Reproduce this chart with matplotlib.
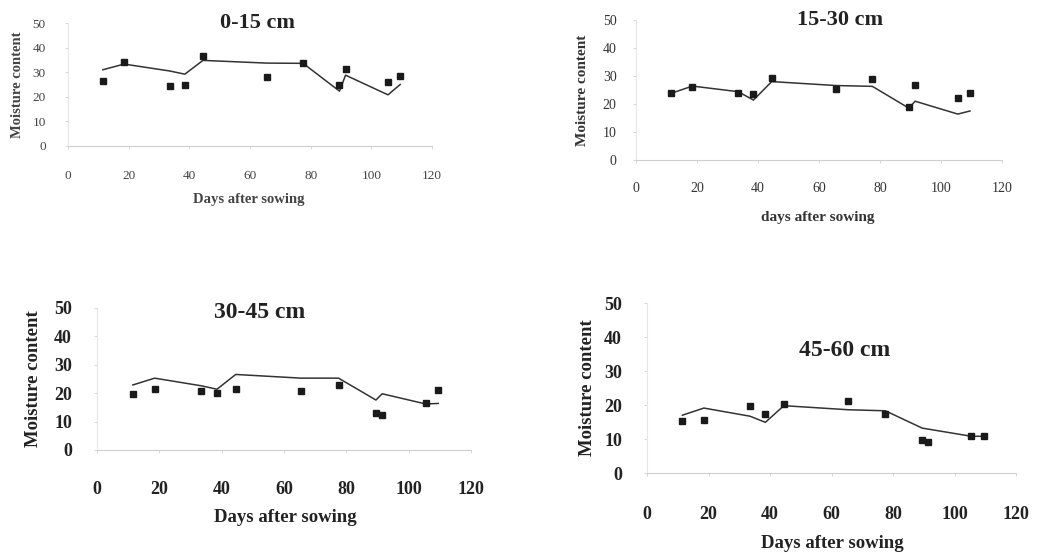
import matplotlib.pyplot as plt

# sampling days (same for every depth)
days = [11.5, 18.5, 33.5, 38.5, 44.5, 65.5, 77.5, 89.5, 91.5, 105.5, 109.5]

# observed (squares) and simulated (line) soil moisture per depth
obs_0_15 = [26.5, 34.1, 24.2, 24.9, 36.7, 28.1, 33.6, 25.0, 31.3, 26.2, 28.5]
sim_0_15 = [31.0, 33.3, 30.5, 29.2, 34.8, 33.7, 33.6, 22.3, 28.8, 20.8, 25.0]

obs_15_30 = [23.8, 26.2, 24.0, 23.5, 29.2, 25.5, 28.9, 18.8, 26.7, 22.1, 24.0]
sim_15_30 = [23.8, 26.4, 24.4, 21.4, 28.0, 26.6, 26.3, 18.5, 21.0, 16.4, 17.5]

obs_30_45 = [19.8, 21.4, 20.6, 20.0, 21.6, 20.8, 22.8, 12.9, 12.5, 16.5, 21.2]
sim_30_45 = [22.9, 25.3, 22.6, 21.4, 26.6, 25.3, 25.3, 17.6, 19.8, 16.2, 16.4]

obs_45_60 = [15.2, 15.7, 19.6, 17.5, 20.4, 21.3, 17.4, 9.6, 9.2, 10.8, 10.8]
sim_45_60 = [17.0, 19.1, 16.7, 14.9, 19.8, 18.6, 18.3, 13.2, 12.9, 10.8, 10.8]

W, H = 1040, 555
plt.rcParams['font.family'] = ['Liberation Serif', 'DejaVu Serif']

fig = plt.figure(figsize=(W / 100, H / 100), dpi=100)
fig.patch.set_facecolor('white')


def px_axes(x0, x1, y0, y1):
    # axes box from pixel positions of (0,0) and (120,50)
    return fig.add_axes([x0 / W, 1 - y0 / H, (x1 - x0) / W, (y0 - y1) / H])


def panel(box, obs, sim, title, title_pos, xlabel, xlabel_pos, ylabel_x,
          tick_size, tick_pad_x, tick_pad_y, lab_size, title_size, col, ms,
          tick_weight):
    ax = px_axes(*box)
    ax.plot(days, sim, color='#333333', lw=1.1)
    ax.plot(days, obs, 's', color='#1a1a1a', ms=ms, mec='#1a1a1a')
    ax.set_xlim(0, 120)
    ax.set_ylim(0, 50)
    ax.set_xticks(range(0, 121, 20))
    ax.set_yticks(range(0, 51, 10))
    for s in ['top', 'right']:
        ax.spines[s].set_visible(False)
    ax.spines['bottom'].set_color('#cfcfcf')
    ax.spines['left'].set_color('#e6e6e6')
    for s in ['left', 'bottom']:
        ax.spines[s].set_linewidth(0.8)
    ax.tick_params(colors='#d0d0d0', length=2, width=0.6, labelcolor=col,
                   labelsize=tick_size)
    ax.tick_params(axis='x', pad=tick_pad_x)
    ax.tick_params(axis='y', pad=tick_pad_y)
    for lbl in ax.get_xticklabels() + ax.get_yticklabels():
        lbl.set_fontweight(tick_weight)
    ax.patch.set_alpha(0)

    fig.text(title_pos[0] / W, 1 - title_pos[1] / H, title, ha='center',
             va='center', fontsize=title_size, color='#222222',
             fontweight='bold')
    fig.text(xlabel_pos[0] / W, 1 - xlabel_pos[1] / H, xlabel, ha='center',
             va='center', fontsize=lab_size, color=col, fontweight='bold')
    yc = (box[2] + box[3]) / 2
    fig.text(ylabel_x / W, 1 - yc / H, 'Moisture content', ha='center',
             va='center', rotation=90, fontsize=lab_size, color=col,
             fontweight='bold')
    return ax


panel((68, 432, 146, 23), obs_0_15, sim_0_15, '0-15 cm', (257, 23),
      'Days after sowing', (249, 200), 18, 9.5, 15, 14, 10.5, 16, '#444444',
      4.2, 'normal')
panel((636, 1002, 160, 20), obs_15_30, sim_15_30, '15-30 cm', (840, 20),
      'days after sowing', (818, 217), 583, 10, 14, 12, 11, 16, '#333333',
      4.3, 'normal')
panel((97, 471, 450, 308), obs_30_45, sim_30_45, '30-45 cm', (260, 313),
      'Days after sowing', (285, 517), 34, 13, 20, 16, 13.5, 17, '#222222',
      4.6, 'bold')
panel((647, 1016, 473, 303), obs_45_60, sim_45_60, '45-60 cm', (845, 350),
      'Days after sowing', (832, 543), 587, 13, 22, 16, 13.5, 17, '#222222',
      4.6, 'bold')

fig.savefig('out.png', dpi=100, facecolor='white')
